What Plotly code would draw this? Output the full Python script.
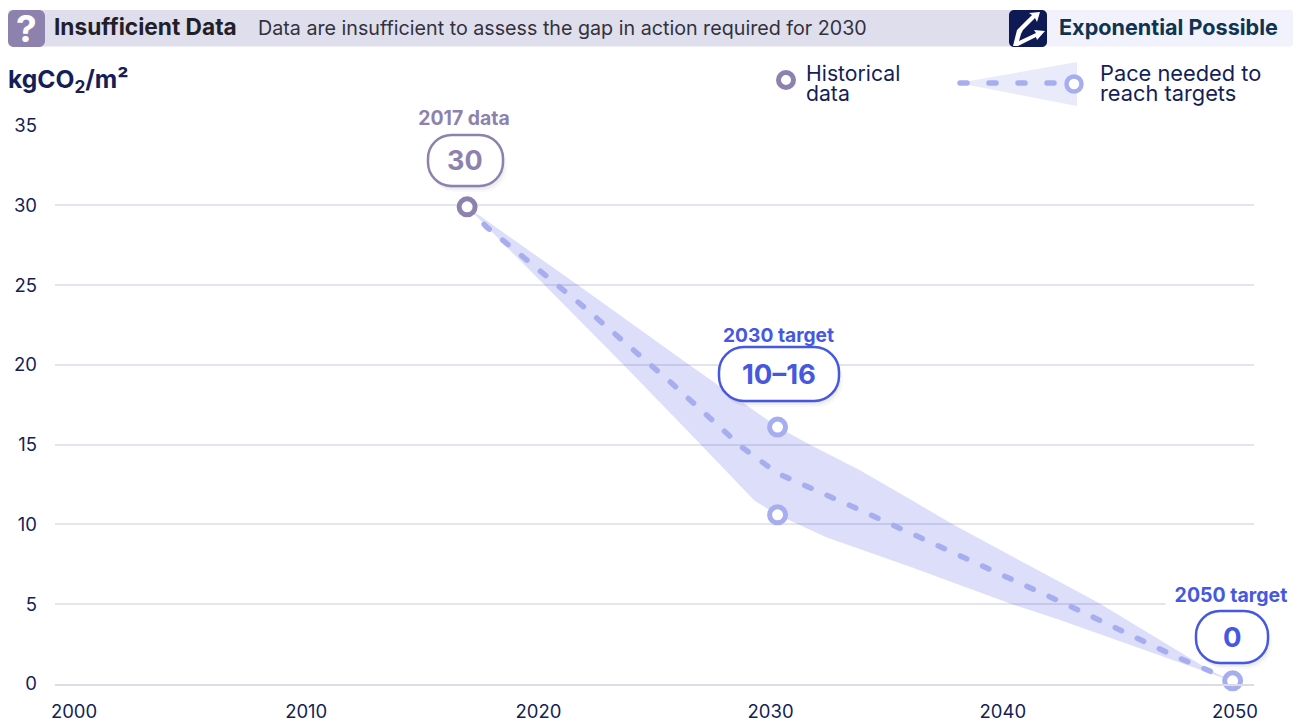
import plotly.graph_objects as go

W, H = 1299, 722
ML, MR, MT, MB = 55, 45, 125, 38
FONT = "Inter"
NAVY = "#141f57"
PURPLE = "#8d82ae"
BLUE = "#4658e0"
PACE = "#a6aef0"
BAND = "rgba(75,80,224,0.19)"

# Values
hist_year = [2016.93]
hist_value = [29.9]
target_year = [2030.3, 2030.3, 2049.9]
target_value = [16.1, 10.6, 0.2]
pace_year = [2016.93, 2017.8, 2021.9, 2025.7, 2028.8, 2030.3, 2033.4, 2035.2, 2038.9, 2042.8, 2047.4, 2049.9]
pace_value = [29.9, 28.6, 23.7, 18.9, 14.8, 13.2, 11.2, 10.0, 7.5, 4.95, 1.75, 0.2]
upper_year = [2016.93, 2021.7, 2026.4, 2030.3, 2031.7, 2033.85, 2036.1, 2037.9, 2041.3, 2044.1, 2049.05, 2049.9]
upper_value = [29.9, 25.0, 20.1, 16.1, 15.0, 13.4, 11.5, 9.96, 7.3, 5.1, 0.75, 0.2]
lower_year = [2016.93, 2020.2, 2023.6, 2027.0, 2029.3, 2030.3, 2032.4, 2036.1, 2040.4, 2042.5, 2049.35, 2049.9]
lower_value = [29.9, 25.1, 20.1, 15.0, 11.5, 10.6, 9.2, 7.3, 5.0, 4.0, 0.45, 0.2]
y_ticks = [0, 5, 10, 15, 20, 25, 30, 35]
x_ticks = [2000, 2010, 2020, 2030, 2040, 2050]

def P(x, y):
    """pixel position -> paper position, relative to the plot area"""
    return (x - ML) / (W - ML - MR), 1 - (y - MT) / (H - MT - MB)

def rrect_path(x0, y0, x1, y1, r):
    k = 0.45 * r
    def p(x, y):
        q = P(x, y)
        return f"{q[0]:.5f},{q[1]:.5f}"
    return (f"M{p(x0+r,y0)} L{p(x1-r,y0)} C{p(x1-k,y0)} {p(x1,y0+k)} {p(x1,y0+r)} "
            f"L{p(x1,y1-r)} C{p(x1,y1-k)} {p(x1-k,y1)} {p(x1-r,y1)} "
            f"L{p(x0+r,y1)} C{p(x0+k,y1)} {p(x0,y1-k)} {p(x0,y1-r)} "
            f"L{p(x0,y0+r)} C{p(x0,y0+k)} {p(x0+k,y0)} {p(x0+r,y0)} Z")

shapes = []

def rrect(x0, y0, x1, y1, r, fill, line=None, lw=0, layer="above"):
    shapes.append(dict(type="path", xref="paper", yref="paper", layer=layer,
                       path=rrect_path(x0, y0, x1, y1, r), fillcolor=fill,
                       line=dict(color=line or "rgba(0,0,0,0)", width=lw)))

def pill(x0, y0, x1, y1, color):
    r = (y1 - y0) * 0.46
    for off, alpha in ((6, .03), (4, .05), (2, .07)):
        rrect(x0 + off - 2, y0 + off, x1 + off - 2, y1 + off, r, f"rgba(60,60,80,{alpha})")
    rrect(x0, y0, x1, y1, r, "white", color, 2.5)

def ring(cx, cy, r, color, lw):
    a, b = P(cx - r, cy - r), P(cx + r, cy + r)
    shapes.append(dict(type="circle", xref="paper", yref="paper", layer="above",
                       x0=a[0], x1=b[0], y0=a[1], y1=b[1], fillcolor="white",
                       line=dict(color=color, width=lw)))

def poly(points, fill):
    d = "M" + " L".join("{:.5f},{:.5f}".format(*P(x, y)) for x, y in points) + " Z"
    shapes.append(dict(type="path", xref="paper", yref="paper", layer="above", path=d,
                       fillcolor=fill, line=dict(color="rgba(0,0,0,0)", width=0)))

# Header strip
rrect(8, 10, 1020, 46.5, 3, "#dfdeec")
rrect(1020, 10, 1293, 46.5, 3, "#f1f2fc")
rrect(8, 10, 45, 47, 6, PURPLE)
rrect(1009, 10, 1047, 47, 5, "#0e1a55")
# Logo arrows
poly([(1013, 46), (1017, 30), (1020, 27), (1032, 15), (1029, 13), (1040, 12), (1037, 22),
      (1035, 18), (1023, 30), (1021, 34), (1019, 41), (1036, 33), (1034, 30), (1045, 31),
      (1037, 40), (1036, 37), (1018, 46)], "white")

# Legend
poly([(958, 83), (1077, 62), (1077, 106)], "#e9ebfb")
a, b = P(960, 83), P(1062, 83)
shapes.append(dict(type="line", xref="paper", yref="paper", layer="above", x0=a[0], x1=b[0],
                   y0=a[1], y1=b[1], line=dict(color=PACE, width=5.5, dash="7px,22px")))
ring(786, 80, 7.5, PURPLE, 5)
ring(1074, 84, 7.5, PACE, 4.5)

# Value pills
pill(428, 135, 503, 186, PURPLE)
pill(719, 347, 839, 401, BLUE)
pill(1196, 611, 1268, 663, BLUE)

annotations = []

def text(x, y, s, size, color, anchor="left", bold=False, bg=None, width=None):
    qx, qy = P(x, y)
    a = dict(xref="paper", yref="paper", x=qx, y=qy, text=f"<b>{s}</b>" if bold else s,
             showarrow=False, xanchor=anchor, yanchor="middle", align=anchor if width is None else "center",
             font=dict(family=FONT, size=size, color=color),
             bgcolor=bg or "rgba(0,0,0,0)", borderpad=0)
    if width:
        a["width"] = width
    annotations.append(a)

text(26.5, 28, "?", 37, "white", "center", True)
text(53, 27, "Insufficient Data", 22.7, "#221f2b", bold=True)
text(257, 28, "Data are insufficient to assess the gap in action required for 2030", 19.7, "#33313c")
text(1058, 27, "Exponential Possible", 21.6, "#10344f", bold=True)
text(7, 80, "kgCO<sub>2</sub>/m²", 24.6, NAVY, bold=True)
text(805, 73, "Historical", 21.2, NAVY)
text(805, 93, "data", 21.2, NAVY)
text(1099, 73, "Pace needed to", 21.8, NAVY)
text(1099, 93, "reach targets", 21.8, NAVY)
text(463.5, 118, "2017 data", 19.4, PURPLE, "center", True, "white", 126)
text(465, 160.5, "30", 27, PURPLE, "center", True)
text(778, 335, "2030 target", 19.2, BLUE, "center", True)
text(779, 373.5, "10–16", 27.5, BLUE, "center", True)
text(1231, 595, "2050 target", 19.5, BLUE, "center", True, "white", 130)
text(1232, 637, "0", 27.5, BLUE, "center", True)

fig = go.Figure()
fig.add_trace(go.Scatter(x=upper_year + lower_year[::-1], y=upper_value + lower_value[::-1],
                         mode="lines", fill="toself", fillcolor=BAND,
                         line=dict(width=0), hoverinfo="skip"))
fig.add_trace(go.Scatter(x=pace_year, y=pace_value, mode="lines",
                         line=dict(color=PACE, width=5.5, dash="7px,17.4px"), hoverinfo="skip"))
fig.add_trace(go.Scatter(x=target_year, y=target_value, mode="markers", cliponaxis=False,
                         marker=dict(size=16, color="white", line=dict(color=PACE, width=5))))
fig.add_trace(go.Scatter(x=hist_year, y=hist_value, mode="markers", cliponaxis=False,
                         marker=dict(size=16, color="white", line=dict(color=PURPLE, width=5))))

fig.update_layout(
    width=W, height=H, autosize=False,
    margin=dict(l=ML, r=MR, t=MT, b=MB, pad=0, autoexpand=False),
    paper_bgcolor="white", plot_bgcolor="white", showlegend=False,
    shapes=shapes, annotations=annotations,
    font=dict(family=FONT, size=18.5, color=NAVY),
)
fig.update_xaxes(range=[1999.18, 2050.82], tickvals=x_ticks, showgrid=False, zeroline=False, automargin=False,
                 showline=True, linecolor="#dcdde4", linewidth=2, ticks="", ticklabelstandoff=10)
fig.update_yaxes(range=[0, 35.03], tickvals=y_ticks, showgrid=True, gridcolor="#e3e4ee", gridwidth=1.5,
                 automargin=False, zeroline=False, showline=False, ticks="", ticklabelstandoff=17)

POST = """
document.body.style.margin = '0';
document.querySelectorAll('.js-line, .shapelayer path').forEach(function (p) {
  p.style.strokeLinecap = 'round';
});
"""
fig.write_html("out.html", config=dict(displayModeBar=False), post_script=POST)
